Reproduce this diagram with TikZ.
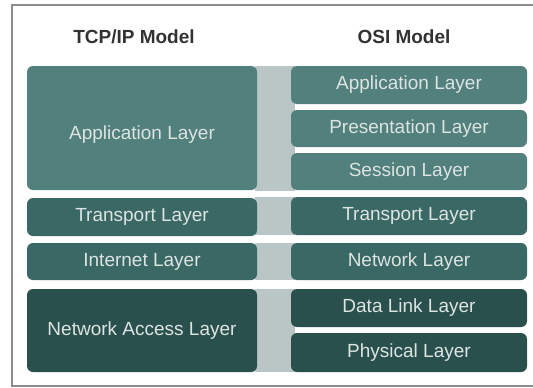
\documentclass[tikz,border=0pt]{standalone}
\usepackage{fontspec}
\setmainfont{Liberation Sans}
\definecolor{apptop}{RGB}{82,128,125}
\definecolor{appmid}{RGB}{58,104,101}
\definecolor{applow}{RGB}{42,80,78}
\definecolor{colgray}{RGB}{186,197,197}
\definecolor{labeltxt}{RGB}{220,228,226}
\definecolor{headtxt}{RGB}{50,50,50}
\definecolor{framegray}{RGB}{140,140,140}
\tikzset{
  layerbox/.style={rounded corners=6pt, inner sep=0pt, text=labeltxt,
    font=\fontsize{19}{21}\selectfont},
  leftbox/.style={layerbox, minimum width=230pt},
  rightbox/.style={layerbox, minimum width=236pt},
  header/.style={font=\fontsize{19}{22}\selectfont\bfseries, text=headtxt, inner sep=0pt},
  divider/.style={fill=colgray}
}
\begin{document}
\begin{tikzpicture}[x=1pt,y=-1pt]
  \useasboundingbox (0,0) rectangle (533,388);
  \clip (0,0) rectangle (533,388);
  % page frame (open on the right)
  \draw[framegray, line width=1.6pt] (540,5) -- (12,5) -- (12,386) -- (540,386);
  % grey column between the two stacks
  \fill[divider] (255,66) rectangle (295,191);
  \fill[divider] (255,197) rectangle (295,235);
  \fill[divider] (255,243) rectangle (295,280);
  \fill[divider] (255,289) rectangle (295,372);
  % headers
  \node[header] (tcp) at (134,37) {TCP/IP Model};
  \node[header] (osi) at (404,37) {OSI Model};
  % TCP/IP stack
  \node[leftbox, fill=apptop, minimum height=124pt, text height=26pt, text depth=4pt] (lapp) at (142,128) {Application Layer};
  \node[leftbox, fill=appmid, minimum height=38pt] (ltra) at (142,217) {Transport Layer};
  \node[leftbox, fill=appmid, minimum height=37pt] (lint) at (142,261.5) {Internet Layer};
  \node[leftbox, fill=applow, minimum height=83pt] (lnet) at (142,330.5) {Network Access Layer};
  % OSI stack
  \node[rightbox, fill=apptop, minimum height=38pt] (oapp) at (409,85) {Application Layer};
  \node[rightbox, fill=apptop, minimum height=37pt] (opre) at (409,128.5) {Presentation Layer};
  \node[rightbox, fill=apptop, minimum height=37pt] (oses) at (409,171.5) {Session Layer};
  \node[rightbox, fill=appmid, minimum height=38pt] (otra) at (409,216) {Transport Layer};
  \node[rightbox, fill=appmid, minimum height=37pt] (onet) at (409,261.5) {Network Layer};
  \node[rightbox, fill=applow, minimum height=38pt] (odat) at (409,308) {Data Link Layer};
  \node[rightbox, fill=applow, minimum height=39pt] (ophy) at (409,352.5) {Physical Layer};
\end{tikzpicture}
\end{document}
